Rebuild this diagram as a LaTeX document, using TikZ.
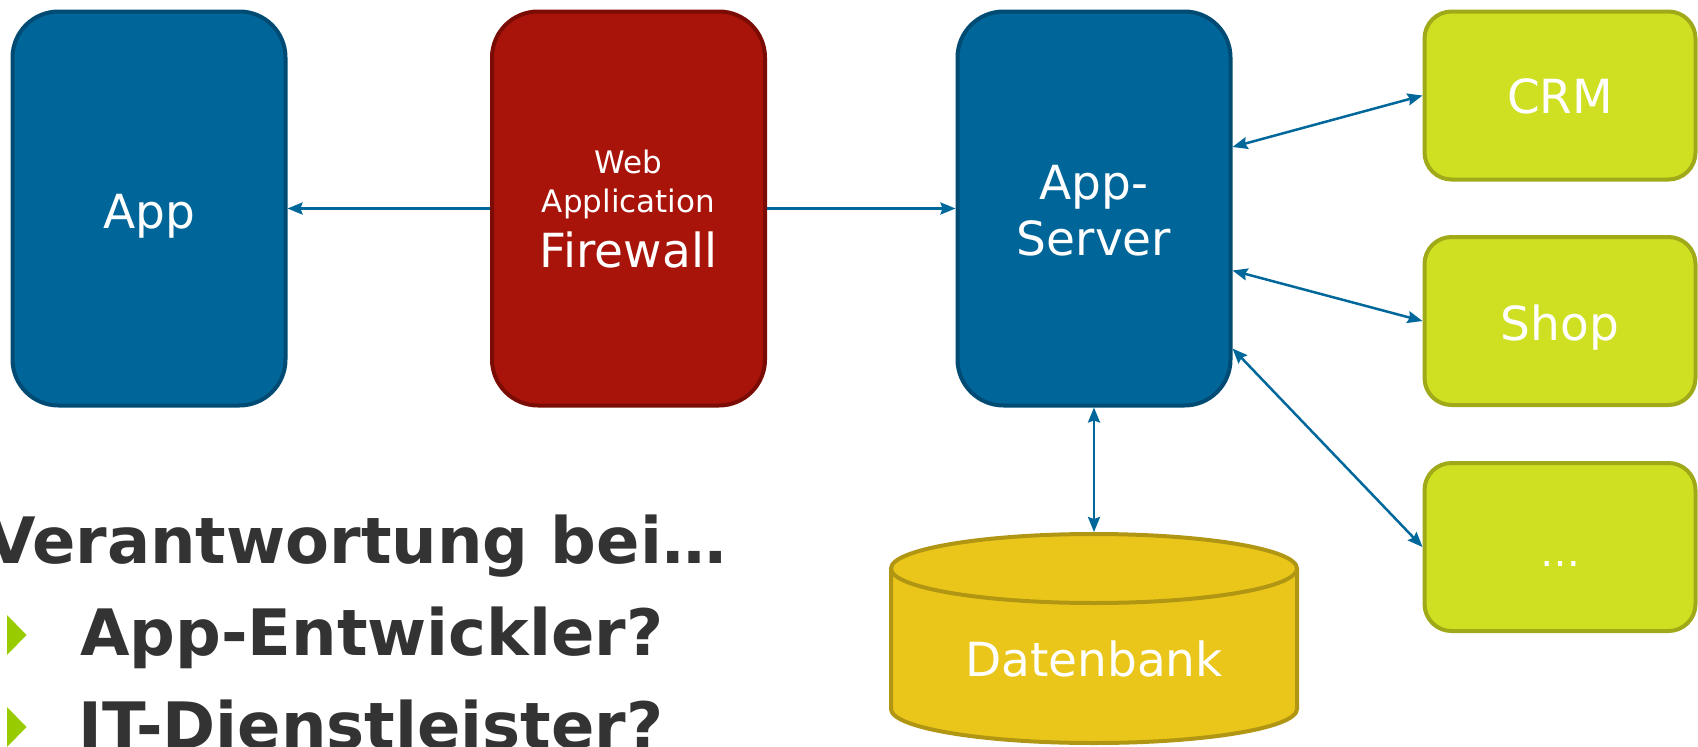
\documentclass[tikz,border=0pt]{standalone}
\usepackage{fontspec}
\setmainfont{DejaVu Sans}
\usetikzlibrary{arrows.meta,calc}

\definecolor{srvblue}{HTML}{006699}
\definecolor{srvedge}{HTML}{004B73}
\definecolor{wafred}{HTML}{A8130A}
\definecolor{wafedge}{HTML}{7B0C05}
\definecolor{extgreen}{HTML}{CFDF21}
\definecolor{extedge}{HTML}{A0AA18}
\definecolor{dbyellow}{HTML}{EBC61A}
\definecolor{dbedge}{HTML}{B19614}
\definecolor{linkblue}{HTML}{00679B}
\definecolor{darktext}{HTML}{333333}
\definecolor{bulletgreen}{HTML}{99CC00}

\begin{document}
\begin{tikzpicture}[
  x=1pt, y=-1pt,
  >={Stealth[length=15pt,width=12pt,inset=2pt]},
  tier/.style={draw, line width=4pt, rounded corners=46pt, inner sep=0pt,
               minimum width=273pt, minimum height=394pt},
  bluebox/.style={tier, fill=srvblue, draw=srvedge},
  redbox/.style={tier, fill=wafred, draw=wafedge},
  greenbox/.style={draw=extedge, fill=extgreen, line width=4pt, rounded corners=27pt,
                   inner sep=0pt, minimum width=271pt, minimum height=168pt},
  boxtext/.style={text=white, anchor=base, inner sep=0pt, font=\fontsize{47}{56}\selectfont},
  smalltext/.style={boxtext, font=\fontsize{31}{37}\selectfont},
  link/.style={draw=linkblue, line width=2.5pt},
  heading/.style={text=darktext, anchor=base west, inner sep=0pt,
                  font=\fontsize{64}{76}\selectfont\bfseries},
]
\useasboundingbox (0,0) rectangle (1698,747);

% tiers
\node[bluebox] (app) at (149,208.5) {};
\node[redbox] (waf) at (628.5,208.5) {};
\node[bluebox] (server) at (1094,208.5) {};

% backend systems
\node[greenbox] (crm) at (1560,95.5) {};
\node[greenbox] (shop) at (1560,321) {};
\node[greenbox] (more) at (1560,547) {};

% database cylinder
\node[inner sep=0pt, outer sep=0pt, minimum width=410pt, minimum height=213pt] (db) at (1094,638.5) {};
\path[fill=dbyellow] (891,568) -- (891,709)
  arc[start angle=180, end angle=360, x radius=203pt, y radius=34pt] -- (1297,568) -- cycle;
\draw[draw=dbedge, line width=4pt] (891,568) -- (891,709)
  arc[start angle=180, end angle=360, x radius=203pt, y radius=34pt] -- (1297,568);
\draw[draw=dbedge, fill=dbyellow, line width=4pt] (1094,568.5) ellipse [x radius=203pt, y radius=34.5pt];

% labels
\node[boxtext] at ($(app.center)+(0,20)$) {App};
\node[smalltext] at ($(waf.center)+(0,-35)$) {Web};
\node[smalltext] at ($(waf.center)+(0,3.5)$) {Application};
\node[boxtext] at ($(waf.center)+(0,58.5)$) {Firewall};
\node[boxtext] at ($(server.center)+(0,-9.5)$) {App-};
\node[boxtext] at ($(server.center)+(0,46.5)$) {Server};
\node[boxtext] at ($(crm.center)+(0,17.5)$) {CRM};
\node[boxtext] at ($(shop.center)+(0,19)$) {Shop};
\node[boxtext, font=\fontsize{40}{48}\selectfont] at ($(more.center)+(0,19)$) {…};
\node[boxtext] at (1094,676) {Datenbank};

% connectors
\draw[link, ->] (waf.west) -- (app.east);
\draw[link, ->] (waf.east) -- (server.west);
\draw[link, <->] ([yshift=61.5pt]server.east) -- (crm.west);
\draw[link, <->] ([yshift=-62pt]server.east) -- (shop.west);
\draw[link, <->] ([yshift=-140pt]server.east) -- (more.west);
\draw[link, <->] (server.south) -- (db.north);

% question list
\node[heading] (head) at (-14,563) {Verantwortung bei…};
\fill[bulletgreen] (7,615) -- (26.5,635) -- (7,655) -- cycle;
\node[heading] (item1) at (80,655.7) {App-Entwickler?};
\fill[bulletgreen] (7,707) -- (26.5,727) -- (7,747) -- cycle;
\node[heading] (item2) at (78,748) {IT-Dienstleister?};
\end{tikzpicture}
\end{document}
